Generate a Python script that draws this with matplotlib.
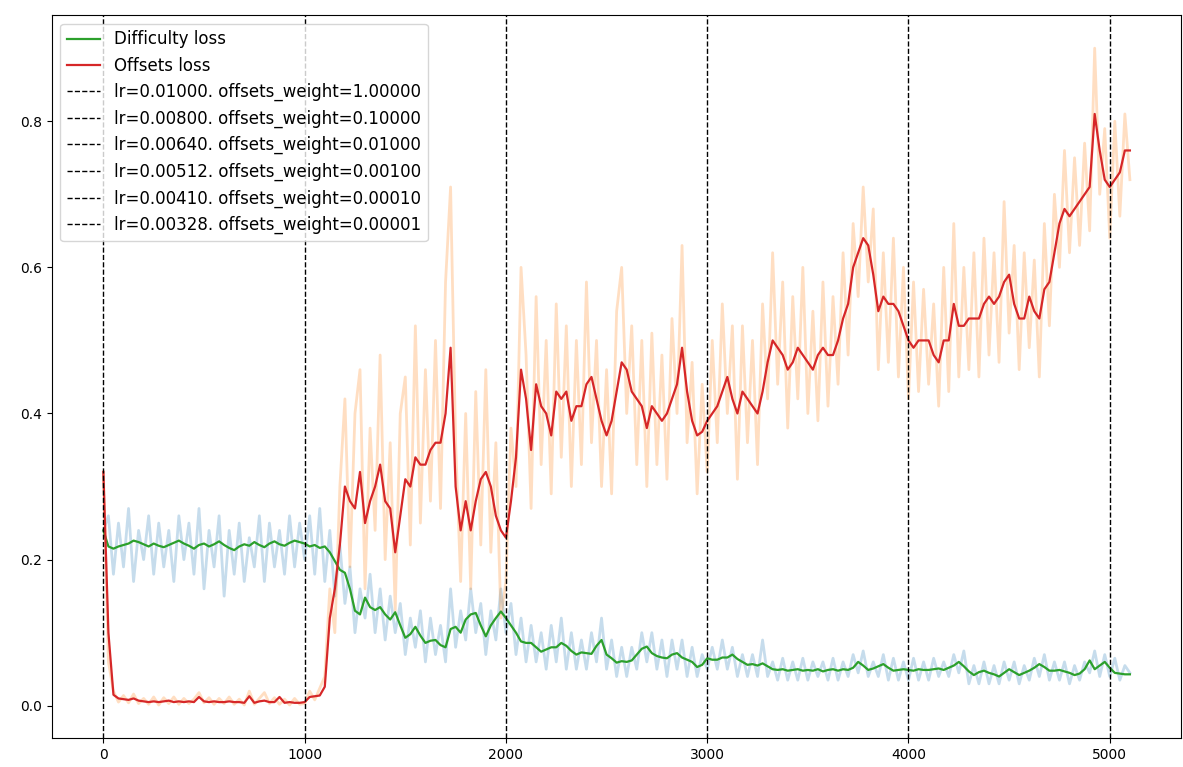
import matplotlib
matplotlib.use("Agg")
import matplotlib.pyplot as plt
import numpy as np

# training steps, logged every 25 iterations
steps = np.arange(0, 5101, 25)

# raw per-step losses
difficulty_raw = [
    0.24, 0.26, 0.18, 0.25, 0.19, 0.27, 0.17, 0.24, 0.20, 0.26,
    0.18, 0.25, 0.19, 0.24, 0.17, 0.26, 0.20, 0.25, 0.18, 0.27,
    0.16, 0.24, 0.19, 0.26, 0.15, 0.24, 0.18, 0.25, 0.17, 0.23,
    0.19, 0.26, 0.17, 0.25, 0.19, 0.24, 0.18, 0.26, 0.19, 0.25,
    0.20, 0.26, 0.18, 0.27, 0.17, 0.24, 0.15, 0.22, 0.14, 0.19,
    0.10, 0.16, 0.12, 0.18, 0.10, 0.16, 0.09, 0.15, 0.10, 0.14,
    0.07, 0.12, 0.08, 0.13, 0.06, 0.12, 0.07, 0.11, 0.06, 0.16,
    0.08, 0.13, 0.09, 0.16, 0.10, 0.14, 0.07, 0.13, 0.09, 0.16,
    0.10, 0.14, 0.07, 0.12, 0.06, 0.11, 0.06, 0.10, 0.05, 0.11,
    0.06, 0.12, 0.05, 0.10, 0.05, 0.09, 0.05, 0.10, 0.06, 0.12,
    0.05, 0.09, 0.04, 0.08, 0.04, 0.08, 0.05, 0.10, 0.06, 0.10,
    0.05, 0.09, 0.04, 0.09, 0.05, 0.09, 0.04, 0.08, 0.04, 0.07,
    0.05, 0.08, 0.05, 0.09, 0.05, 0.08, 0.04, 0.07, 0.04, 0.07,
    0.04, 0.09, 0.04, 0.06, 0.035, 0.065, 0.035, 0.06, 0.035, 0.065,
    0.035, 0.06, 0.04, 0.06, 0.035, 0.065, 0.035, 0.06, 0.04, 0.07,
    0.045, 0.075, 0.04, 0.06, 0.04, 0.07, 0.035, 0.065, 0.035, 0.06,
    0.035, 0.065, 0.035, 0.06, 0.035, 0.065, 0.04, 0.06, 0.04, 0.07,
    0.045, 0.075, 0.03, 0.055, 0.03, 0.06, 0.03, 0.055, 0.03, 0.06,
    0.035, 0.06, 0.03, 0.055, 0.035, 0.065, 0.04, 0.07, 0.035, 0.06,
    0.035, 0.06, 0.03, 0.055, 0.035, 0.06, 0.045, 0.075, 0.04, 0.07,
    0.04, 0.065, 0.035, 0.055, 0.045,
]

offsets_raw = [
    0.32, 0.06, 0.02, 0.005, 0.014, 0.004, 0.016, 0.003, 0.010, 0.002,
    0.012, 0.001, 0.011, 0.003, 0.012, 0.002, 0.010, 0.003, 0.009, 0.018,
    0.004, 0.011, 0.002, 0.010, 0.003, 0.012, 0.002, 0.009, 0.001, 0.020,
    0.002, 0.010, 0.018, 0.003, 0.011, 0.002, 0.009, 0.001, 0.010, 0.002,
    0.003, 0.020, 0.008, 0.024, 0.04, 0.16, 0.10, 0.30, 0.42, 0.19,
    0.40, 0.46, 0.16, 0.38, 0.24, 0.48, 0.20, 0.36, 0.13, 0.40,
    0.45, 0.22, 0.52, 0.25, 0.46, 0.28, 0.50, 0.27, 0.58, 0.71,
    0.36, 0.17, 0.40, 0.16, 0.43, 0.22, 0.46, 0.21, 0.36, 0.12,
    0.17, 0.38, 0.30, 0.60, 0.48, 0.27, 0.56, 0.33, 0.50, 0.29,
    0.55, 0.34, 0.52, 0.30, 0.50, 0.33, 0.58, 0.36, 0.50, 0.30,
    0.46, 0.29, 0.54, 0.60, 0.40, 0.52, 0.33, 0.50, 0.30, 0.51,
    0.33, 0.48, 0.31, 0.53, 0.40, 0.63, 0.36, 0.47, 0.29, 0.44,
    0.32, 0.50, 0.36, 0.55, 0.40, 0.52, 0.31, 0.52, 0.36, 0.50,
    0.33, 0.55, 0.42, 0.62, 0.44, 0.58, 0.38, 0.56, 0.42, 0.60,
    0.40, 0.54, 0.39, 0.58, 0.41, 0.56, 0.44, 0.62, 0.48, 0.66,
    0.56, 0.71, 0.58, 0.68, 0.46, 0.62, 0.47, 0.64, 0.45, 0.60,
    0.42, 0.58, 0.43, 0.57, 0.44, 0.55, 0.41, 0.60, 0.43, 0.66,
    0.45, 0.60, 0.46, 0.62, 0.45, 0.64, 0.48, 0.62, 0.47, 0.69,
    0.51, 0.63, 0.46, 0.62, 0.49, 0.61, 0.45, 0.66, 0.52, 0.70,
    0.60, 0.76, 0.62, 0.75, 0.63, 0.77, 0.65, 0.90, 0.70, 0.79,
    0.64, 0.80, 0.67, 0.81, 0.72,
]

# smoothed losses
difficulty_smooth = [
    0.240, 0.218, 0.215, 0.218, 0.220, 0.222, 0.226, 0.224, 0.221, 0.218,
    0.222, 0.219, 0.217, 0.220, 0.223, 0.226, 0.222, 0.219, 0.215, 0.220,
    0.222, 0.218, 0.221, 0.225, 0.220, 0.216, 0.213, 0.218, 0.221, 0.219,
    0.224, 0.220, 0.217, 0.222, 0.225, 0.221, 0.219, 0.223, 0.226, 0.224,
    0.222, 0.218, 0.220, 0.216, 0.218, 0.210, 0.198, 0.186, 0.182, 0.160,
    0.130, 0.125, 0.148, 0.135, 0.131, 0.135, 0.125, 0.118, 0.128, 0.110,
    0.093, 0.098, 0.108, 0.096, 0.086, 0.089, 0.090, 0.083, 0.080, 0.105,
    0.108, 0.100, 0.118, 0.125, 0.127, 0.110, 0.095, 0.110, 0.120, 0.129,
    0.120, 0.110, 0.100, 0.088, 0.086, 0.086, 0.080, 0.074, 0.077, 0.080,
    0.080, 0.086, 0.082, 0.075, 0.070, 0.073, 0.072, 0.071, 0.082, 0.090,
    0.070, 0.065, 0.059, 0.061, 0.060, 0.062, 0.070, 0.078, 0.081, 0.072,
    0.068, 0.066, 0.065, 0.070, 0.072, 0.066, 0.063, 0.060, 0.053, 0.056,
    0.065, 0.063, 0.063, 0.066, 0.066, 0.070, 0.064, 0.060, 0.056, 0.057,
    0.055, 0.058, 0.054, 0.050, 0.049, 0.050, 0.048, 0.049, 0.050, 0.048,
    0.049, 0.048, 0.050, 0.047, 0.049, 0.050, 0.048, 0.050, 0.049, 0.052,
    0.060, 0.055, 0.049, 0.051, 0.054, 0.057, 0.052, 0.048, 0.049, 0.050,
    0.049, 0.048, 0.050, 0.049, 0.049, 0.050, 0.051, 0.049, 0.052, 0.055,
    0.060, 0.054, 0.047, 0.042, 0.046, 0.048, 0.045, 0.043, 0.040, 0.045,
    0.050, 0.046, 0.042, 0.045, 0.048, 0.052, 0.057, 0.053, 0.048, 0.048,
    0.049, 0.047, 0.045, 0.042, 0.044, 0.050, 0.062, 0.050, 0.055, 0.060,
    0.052, 0.045, 0.044, 0.043, 0.043,
]

offsets_smooth = [
    0.32, 0.10, 0.015, 0.010, 0.009, 0.008, 0.010, 0.007, 0.006, 0.005,
    0.006, 0.005, 0.006, 0.007, 0.005, 0.006, 0.005, 0.006, 0.005, 0.012,
    0.006, 0.005, 0.006, 0.005, 0.005, 0.006, 0.005, 0.005, 0.004, 0.013,
    0.004, 0.006, 0.007, 0.005, 0.005, 0.012, 0.004, 0.005, 0.004, 0.004,
    0.005, 0.012, 0.013, 0.014, 0.026, 0.12, 0.16, 0.22, 0.30, 0.28,
    0.27, 0.32, 0.25, 0.28, 0.30, 0.33, 0.28, 0.27, 0.21, 0.26,
    0.31, 0.30, 0.34, 0.33, 0.33, 0.35, 0.36, 0.36, 0.40, 0.49,
    0.30, 0.24, 0.28, 0.24, 0.28, 0.31, 0.32, 0.30, 0.26, 0.24,
    0.23, 0.28, 0.34, 0.46, 0.42, 0.35, 0.44, 0.41, 0.40, 0.37,
    0.43, 0.42, 0.43, 0.39, 0.41, 0.41, 0.44, 0.45, 0.42, 0.39,
    0.37, 0.39, 0.43, 0.47, 0.46, 0.43, 0.42, 0.41, 0.38, 0.41,
    0.40, 0.39, 0.40, 0.42, 0.44, 0.49, 0.43, 0.39, 0.37, 0.375,
    0.39, 0.40, 0.41, 0.43, 0.45, 0.42, 0.40, 0.43, 0.42, 0.41,
    0.40, 0.43, 0.47, 0.50, 0.49, 0.48, 0.46, 0.47, 0.49, 0.48,
    0.47, 0.46, 0.48, 0.49, 0.48, 0.48, 0.50, 0.53, 0.55, 0.60,
    0.62, 0.64, 0.63, 0.59, 0.54, 0.56, 0.55, 0.55, 0.54, 0.52,
    0.50, 0.49, 0.50, 0.50, 0.50, 0.48, 0.47, 0.50, 0.50, 0.55,
    0.52, 0.52, 0.53, 0.53, 0.53, 0.55, 0.56, 0.55, 0.56, 0.58,
    0.59, 0.55, 0.53, 0.53, 0.56, 0.54, 0.53, 0.57, 0.58, 0.62,
    0.66, 0.68, 0.67, 0.68, 0.69, 0.70, 0.71, 0.81, 0.76, 0.72,
    0.71, 0.72, 0.73, 0.76, 0.76,
]

# learning-rate schedule switches
switch_steps = [0, 1000, 2000, 3000, 4000, 5000]
lrs = [0.01, 0.008, 0.0064, 0.00512, 0.0041, 0.00328]
offsets_weights = [1.0, 0.1, 0.01, 0.001, 0.0001, 0.00001]

fig, ax = plt.subplots(figsize=(11.83, 7.67), dpi=100)
fig.subplots_adjust(left=0.044, right=0.9985, top=0.980, bottom=0.038)

ax.plot(steps, difficulty_raw, color='tab:blue', alpha=0.25, linewidth=2)
ax.plot(steps, offsets_raw, color='tab:orange', alpha=0.25, linewidth=2)
ax.plot(steps, difficulty_smooth, color='tab:green', linewidth=1.6, label='Difficulty loss')
ax.plot(steps, offsets_smooth, color='tab:red', linewidth=1.6, label='Offsets loss')

for s, lr, w in zip(switch_steps, lrs, offsets_weights):
    ax.axvline(s, color='k', linestyle='--', linewidth=1,
               label=f'lr={lr:.5f}. offsets_weight={w:.5f}')

ax.legend(loc='upper left', fontsize=12)
fig.savefig('out.png', dpi=100)
